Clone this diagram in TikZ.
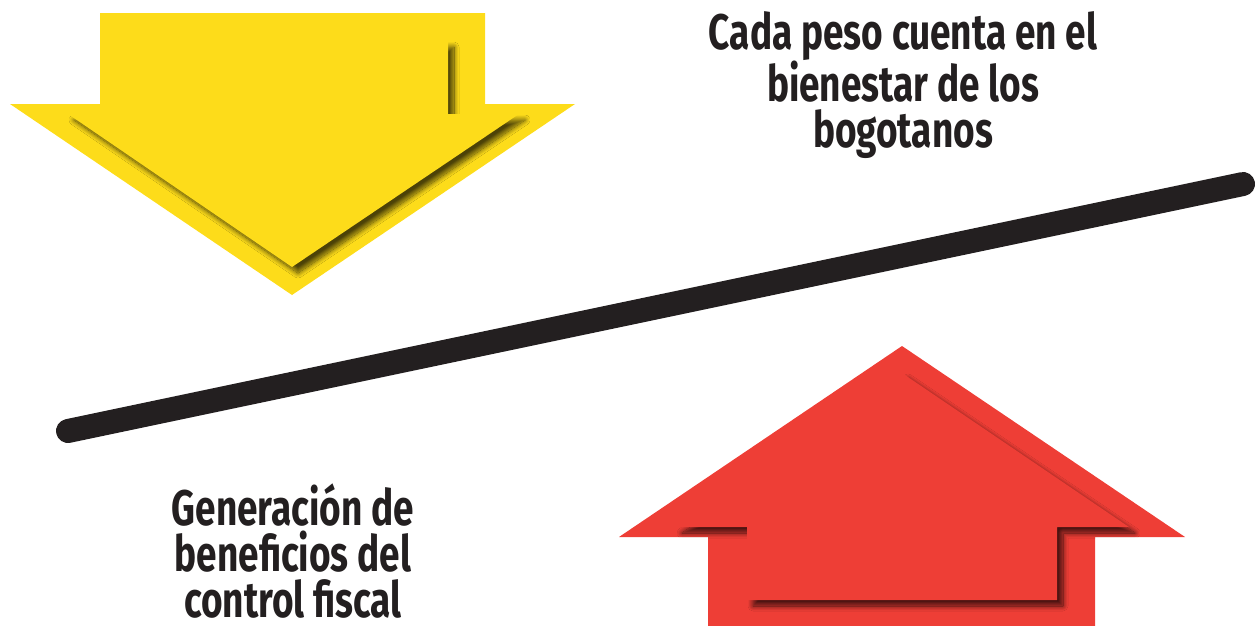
\documentclass[tikz,border=0pt]{standalone}
\usepackage{fontspec}
\usepackage{tikz}
\usetikzlibrary{shadows.blur}
\newfontfamily\condfont[FakeStretch=0.74]{Fira Sans}
\definecolor{yellowarrow}{HTML}{FDDC1A}
\definecolor{redarrow}{HTML}{EE3E36}
\definecolor{beamblack}{HTML}{231F20}
\tikzset{
	x=1pt, y=-1pt, % one unit is one pixel of the sketch
	outer/.style={fill=#1, draw=none}, % the flat back of an arrow
	inner/.style={fill=#1, draw=none, blur shadow={shadow xshift=6pt, shadow yshift=-6pt, shadow blur radius=5pt, shadow blur steps=14, shadow opacity=70}}, % the raised front of an arrow
	beam/.style={line width=24pt, line cap=round, draw=beamblack}, % the tilted bar
	caption/.style={font=\condfont\bfseries\fontsize{50}{46}\selectfont, align=center, text=beamblack, inner sep=0pt}, % texts
}

\begin{document}
\begin{tikzpicture}
	\useasboundingbox (0,0) rectangle (1259,625);
	% yellow arrow, pointing down
	\fill[outer=yellowarrow] (100,13) -- (485,13) -- (485,104) -- (575,104) -- (292,295) -- (10,104) -- (100,104) -- cycle;
	\fill[inner=yellowarrow] (137,41) -- (448,41) -- (448,114) -- (519,114) -- (292,267) -- (68,114) -- (137,114) -- cycle;
	% red arrow, pointing up
	\fill[outer=redarrow] (902,346) -- (1185,537) -- (1095,537) -- (1095,626) -- (708,626) -- (708,537) -- (619,537) -- cycle;
	\fill[inner=redarrow] (902,373) -- (1129,527) -- (1057,527) -- (1057,600) -- (747,600) -- (747,527) -- (676,527) -- cycle;
	% the bar
	\coordinate (lowend) at (68,431);
	\coordinate (highend) at (1243,184);
	\draw[beam] (lowend) -- (highend);
	% texts
	\node[caption, anchor=north] (bienestar) at (903,11) {Cada peso cuenta en el\\bienestar de los\\bogotanos};
	\node[caption, anchor=north] (beneficios) at (293,484) {Generación de\\beneficios del\\control fiscal};
\end{tikzpicture}
\end{document}
